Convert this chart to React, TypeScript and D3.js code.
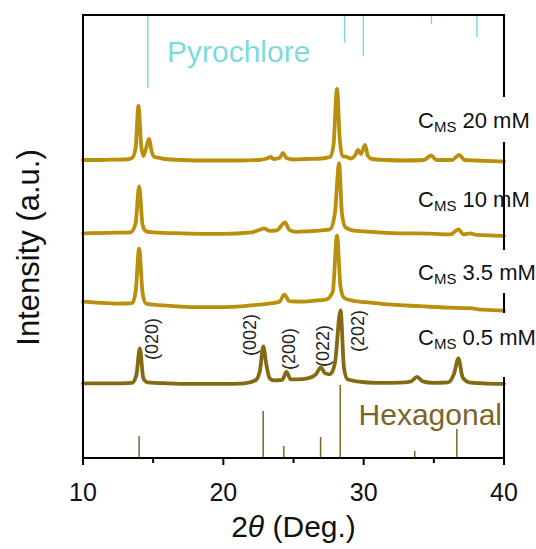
import * as d3 from 'd3'

// XRD patterns, [2theta, counts above each trace's own offset]
const ms20: [number, number][] = [
  [10, 0], [11, 0], [12, 3], [13, 5], [13.5, 20], [13.75, 120], [13.95, 540], [14.15, 140], [14.3, 40],
  [14.5, 120], [14.7, 210], [14.9, 80], [15.1, 30], [15.5, 20], [15.8, 10], [17, 0], [19, -5], [21, -5],
  [22.5, 0], [23.1, 15], [23.35, 30], [23.6, 10], [24.0, 20], [24.25, 70], [24.5, 20], [25, 5], [26, 10],
  [27, 15], [27.6, 30], [27.85, 150], [28.1, 710], [28.3, 200], [28.5, 40], [28.8, 30], [29.1, 15],
  [29.4, 50], [29.6, 100], [29.8, 60], [30.1, 150], [30.3, 40], [30.6, 10], [31.5, 0], [33, -5], [34.3, 0],
  [34.8, 45], [35.2, 0], [36.3, 0], [36.8, 50], [37.2, 0], [38, -5], [40, -15],
]
const ms10: [number, number][] = [
  [10, 0], [12, 5], [13.4, 10], [13.75, 100], [14.0, 470], [14.25, 80], [14.5, 20], [15, 10], [17, 0],
  [20, -5], [22, 10], [22.6, 35], [22.9, 50], [23.3, 25], [23.8, 30], [24.4, 110], [24.7, 35], [25.2, 15],
  [26, 20], [27, 30], [27.6, 40], [27.95, 200], [28.25, 700], [28.45, 200], [28.7, 60], [29.2, 30],
  [30, 20], [31, 10], [33, 0], [34, 0], [36.2, -10], [36.75, 40], [37.1, -10], [37.6, 0], [38, -15], [40, -25],
]
const ms3p5: [number, number][] = [
  [10, 0], [11, -10], [12.5, -20], [13.5, -15], [13.75, 100], [14.0, 530], [14.25, 80], [14.5, -20],
  [15, -30], [16, -40], [18, -55], [20, -55], [21.5, -45], [22.5, -30], [23.5, -15], [24.0, 0], [24.35, 70],
  [24.7, 5], [25.5, 0], [26.5, 10], [27.3, 20], [27.8, 100], [28.1, 660], [28.35, 150], [28.6, 40],
  [29.2, 10], [30.5, -10], [32, -30], [34, -45], [36, -60], [37.5, -65], [38.5, -80], [40, -90],
]
const ms0p5: [number, number][] = [
  [10, 0], [12, 0], [13.5, 5], [13.8, 80], [14.05, 350], [14.3, 50], [14.6, 10], [16, 0], [18, -5],
  [20, -5], [21.5, 0], [22.3, 30], [22.6, 120], [22.85, 370], [23.05, 200], [23.3, 50], [23.6, 30],
  [24.2, 35], [24.5, 115], [24.8, 40], [25.3, 40], [26, 50], [26.6, 90], [26.95, 160], [27.25, 100],
  [27.6, 90], [27.95, 200], [28.35, 730], [28.6, 150], [28.85, 40], [29.5, 20], [31, 5], [33, 10],
  [33.4, 20], [33.8, 65], [34.2, 20], [35, 5], [36, 10], [36.45, 100], [36.75, 250], [37.05, 60],
  [37.5, 10], [38.5, 0], [40, -5],
]

const series = [ms20, ms10, ms3p5, ms0p5]
const offsets = [2980, 2247, 1563, 747]
const concs = ['20', '10', '3.5', '0.5']

// reference patterns
const hexPos = [14.0, 22.84, 24.31, 26.93, 28.33, 33.64, 36.64]
const hexInt = [220, 470, 120, 210, 730, 70, 290]
const pyroPos = [14.62, 28.64, 29.98, 34.83, 38.07]
const pyroInt = [730, 280, 410, 90, 220]

const hklText = ['(020)', '(002)', '(200)', '(022)', '(202)']
const hklPos = [14.9, 21.93, 24.7, 27.07, 29.57]
const hklLevel = [1190, 1230, 1090, 1120, 1270]

const xTicks = [10, 15, 20, 25, 30, 35, 40]

const W = 536, H = 549
const left = 83, right = 504, top = 15, bottom = 458
const font = '"Liberation Sans", Arial, sans-serif'
const gold = '#b98f0c'
const olive = '#846a12'
const stick = '#7c6527'
const cyan = '#80dadb'

const labelY = [128, 207, 280, 345]
const axisGaps = [[97, 142], [250, 293], [313, 377]]

export default function App() {
  const x = d3.scaleLinear().domain([10, 40]).range([left, right])
  const y = d3.scaleLinear().domain([0, 4430]).range([bottom, top])

  const lineFor = (off: number) =>
    d3.line<[number, number]>()
      .x(d => x(d[0]))
      .y(d => y(d[1] + off))
      .curve(d3.curveMonotoneX)

  return (
    <svg width={W} height={H} style={{ position: 'absolute', left: 0, top: 0, background: '#fff' }} fontFamily={font}>
      {/* pyrochlore sticks hang from the top */}
      {pyroPos.map((p, i) => (
        <line key={'p' + i} x1={x(p)} x2={x(p)} y1={y(4430)} y2={y(4430 - pyroInt[i])} stroke={cyan} strokeWidth={1.5} />
      ))}
      <text x={167} y={62} fontSize={30} fill={cyan}>Pyrochlore</text>

      {/* hexagonal sticks from the bottom */}
      {hexPos.map((p, i) => (
        <line key={'h' + i} x1={x(p)} x2={x(p)} y1={y(0)} y2={y(hexInt[i])} stroke={stick} strokeWidth={1.5} />
      ))}
      <text x={502} y={425} fontSize={30} fill={stick} textAnchor="end">Hexagonal</text>

      {series.map((s, i) => (
        <path key={'s' + i} d={lineFor(offsets[i])(s) || ''} fill="none" stroke={i === 3 ? olive : gold}
          strokeWidth={3.8} strokeLinejoin="round" strokeLinecap="round" />
      ))}

      {hklText.map((t, i) => (
        <text key={'k' + i} transform={`translate(${x(hklPos[i])},${y(hklLevel[i])}) rotate(-90)`}
          textAnchor="middle" dominantBaseline="central" fontSize={18} fill="#222">{t}</text>
      ))}

      {/* frame */}
      <rect x={left} y={top} width={right - left} height={bottom - top} fill="none" stroke="#000" strokeWidth={2} />
      {axisGaps.map((g, i) => (
        <rect key={'g' + i} x={right - 6} y={g[0]} width={12} height={g[1] - g[0]} fill="#fff" />
      ))}

      {concs.map((c, i) => (
        <text key={'l' + i} x={418} y={labelY[i]} fontSize={22} fill="#111">
          C<tspan fontSize={15} dy={4}>MS</tspan><tspan dy={-4}>{' ' + c + ' mM'}</tspan>
        </text>
      ))}

      {/* x axis ticks */}
      {xTicks.map(t => (
        <line key={'t' + t} x1={x(t)} x2={x(t)} y1={bottom} y2={bottom + (t % 10 === 0 ? 7 : 5)} stroke="#000" strokeWidth={2} />
      ))}
      {xTicks.filter(t => t % 10 === 0).map(t => (
        <text key={'tl' + t} x={x(t)} y={501} fontSize={25} textAnchor="middle" fill="#111">{t}</text>
      ))}
      <text x={(left + right) / 2} y={537} fontSize={30} textAnchor="middle" fill="#111">
        2<tspan fontStyle="italic">θ</tspan> (Deg.)
      </text>
      <text transform={`translate(39,${(top + bottom) / 2 + 11}) rotate(-90)`} fontSize={31} textAnchor="middle" fill="#111">
        Intensity (a.u.)
      </text>
    </svg>
  )
}
